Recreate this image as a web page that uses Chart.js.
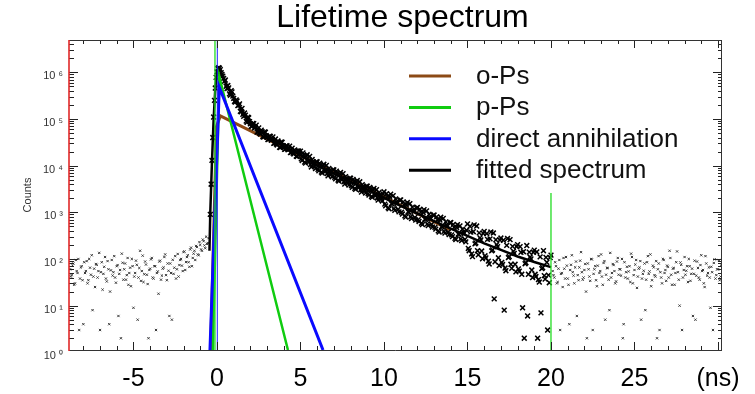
<!DOCTYPE html>
<html><head><meta charset="utf-8">
<script src="https://cdn.jsdelivr.net/npm/chart.js@4.4.1/dist/chart.umd.min.js"></script>
<style>html,body{margin:0;padding:0;background:#fff}canvas{display:block}</style>
</head><body>
<canvas id="c" width="755" height="394"></canvas>
<script>
// ---------- text ----------
const titleText = 'Lifetime spectrum';
const yAxisTitle = 'Counts';
const legendLabels = ['o-Ps', 'p-Ps', 'direct annihilation', 'fitted spectrum'];
const xTickValues = [-5, 0, 5, 10, 15, 20, 25, 30];
const xTickLabels = ['-5', '0', '5', '10', '15', '20', '25', '(ns)'];
const yTickValues = [1, 10, 100, 1000, 10000, 100000, 1000000];
const yTickLabels = ['10 \u2070', '10 \u00b9', '10 \u00b2', '10 \u00b3', '10 \u2074', '10 \u2075', '10 \u2076'];

// ---------- fitted components (time in ns, counts) ----------
const oPsT = [-0.38, -0.07, -0.04, 0.2, 14.0];
const oPsCounts = [1.12, 18600, 67000, 116000, 415];
const pPsT = [-0.25, 0.14, 4.25];
const pPsCounts = [1.12, 800000, 1.12];
const directT = [-0.42, 0.14, 6.35];
const directCounts = [1.12, 480000, 1.12];
const fitT = [-0.45, -0.4, -0.3, -0.2, -0.1, 0, 0.1, 0.2, 0.3, 0.4, 0.5, 0.6, 0.8, 1.0, 1.2, 1.4, 1.6, 1.8, 2.0, 2.5, 3, 3.5, 4, 5, 6, 7, 8, 9, 10, 11, 12, 13, 14, 15, 16, 17, 18, 19, 20];
const fitCounts = [150, 1000, 12000, 100000, 450000, 1000000, 1220000, 1100000, 900000, 740000, 610000, 510000, 380000, 290000, 220000, 170000, 130000, 100000, 83000, 57500, 42700, 33100, 26300, 17000, 10000, 6760, 4470, 3020, 2040, 1365, 942, 647, 447, 312, 216, 156, 113, 86, 67];

// ---------- range markers ----------
const markerP1T = [-0.12, -0.12];
const markerP1Counts = [1.12, 4.92e6];
const markerD1T = [0.02, 0.02];
const markerD1Counts = [1.12, 4.92e6];
const markerEndT = [20.0, 20.0];
const markerEndCounts = [1.12, 2600];

// ---------- measured spectrum (channel width 0.1 ns, two interleaved halves) ----------
const channelWidth = 0.1;
const measuredAStart = -0.4;
const measuredACounts = [900, 13000, 110000, 460000, 1020000, 1250000, 1140000, 900000, 740000,
 683000, 449000, 462000, 323000, 380000, 276000, 230000, 242000, 195000, 146000,
 168000, 114000, 121000, 85000, 106000, 78900, 69300, 79200, 66000, 52500,
 64400, 47500, 53600, 40800, 51800, 40600, 36500, 42400, 36700, 29900,
 37100, 27700, 31500, 24500, 31600, 25000, 22700, 26500, 23000, 19000,
 23600, 17800, 20400, 15700, 20500, 20400, 12900, 16800, 11300, 17100,
 12000, 10500, 13500, 11100, 8610, 12000, 7700, 10200, 6940, 10700,
 7570, 6730, 8760, 7330, 5780, 8110, 5190, 6840, 4660, 7160,
 5050, 4480, 5820, 4850, 3820, 5360, 3440, 4550, 3100, 4790,
 3390, 3010, 3910, 3270, 2580, 3620, 2330, 3080, 2100, 3240,
 2290, 2030, 2650, 2210, 1750, 2750, 1370, 2160, 1180, 2440,
 1500, 1200, 1930, 1550, 1020, 1840, 917, 1450, 787, 1620,
 1000, 803, 1290, 1040, 683, 1270, 635, 1010, 547, 1140,
 703, 564, 906, 733, 484, 873, 437, 691, 376, 781,
 484, 389, 625, 506, 334, 603, 302, 478, 261, 542,
 336, 270, 434, 352, 233, 562, 150, 377, 112, 538,
 220, 150, 362, 255, 101, 389, 105, 263, 78, 378,
 156, 14, 258, 183, 72, 281, 76, 8, 56, 274,
 112, 77, 186, 132, 53, 203, 55, 139, 9, 2,
 83, 6, 140, 100, 40, 155, 42, 2, 32, 7,
 65, 44, 108, 3, 31, 121];
const measuredBStart = -0.35;
const measuredBCounts = [4000, 40000, 250000, 780000, 1200000, 1230000, 980000, 830000, 640000,
 501000, 520000, 344000, 404000, 309000, 237000, 256000, 193000, 211000, 142000,
 126000, 134000, 90000, 109000, 87400, 69600, 80500, 64200, 73700, 52700,
 50100, 57800, 41600, 53000, 43800, 36200, 42700, 35000, 41400, 30300,
 29100, 33800, 24700, 32000, 26900, 22400, 26600, 21900, 26100, 19200,
 18500, 21800, 15900, 20600, 17400, 14000, 18800, 11900, 16200, 12600,
 15800, 9360, 12000, 9720, 12100, 8340, 11300, 7260, 10000, 7970,
 10100, 6060, 7840, 6470, 8140, 5630, 7620, 4870, 6730, 5330,
 6730, 4020, 5200, 4280, 5380, 3720, 5060, 3250, 4490, 3560,
 4510, 2710, 3500, 2890, 3630, 2520, 3420, 2190, 3040, 2410,
 3050, 1830, 2360, 1950, 2450, 1500, 2500, 1250, 2120, 1530,
 2280, 1100, 1660, 1160, 1810, 1000, 1670, 840, 1420, 1030,
 1530, 735, 1110, 774, 1230, 694, 1160, 583, 991, 716,
 1070, 517, 782, 548, 858, 476, 796, 401, 682, 493,
 739, 357, 540, 378, 592, 329, 550, 277, 473, 342,
 512, 247, 375, 263, 412, 168, 502, 128, 384, 211,
 508, 123, 283, 148, 352, 117, 349, 90, 269, 149,
 360, 87, 203, 106, 253, 84, 252, 64, 195, 107,
 260, 63, 146, 77, 184, 61, 184, 47, 143, 79,
 194, 47, 110, 58, 139, 47, 141, 36, 111, 62,
 150, 37, 85, 45, 107];
const bgLeftAStart = -8.8;
const bgLeftACounts = [60, 45, 80, 30, 55, 100, 38, 70, 4, 50,
 90, 35, 65, 120, 42, 25, 75, 55, 3, 85,
 48, 110, 33, 60, 20, 95, 52, 40, 70, 6,
 58, 130, 36, 80, 45, 28, 65, 100, 9, 50,
 75, 40, 150, 55, 32, 88, 46, 2, 62, 105,
 38, 70, 50, 18, 92, 44, 66, 125, 35, 56,
 80, 5, 48, 115, 60, 42, 95, 72, 140, 58,
 110, 85, 160, 70, 130, 95, 180, 120, 200, 150,
 240, 170, 210, 280];
const bgLeftBStart = -8.75;
const bgLeftBCounts = [42, 72, 28, 95, 50, 3, 66, 35, 85, 55,
 30, 100, 46, 8, 62, 78, 40, 135, 52, 22,
 68, 38, 90, 4, 57, 44, 115, 31, 74, 48,
 2, 83, 60, 36, 105, 50, 26, 70, 42, 92,
 5, 64, 34, 118, 47, 76, 29, 58, 98, 40,
 70, 3, 54, 88, 36, 62, 110, 45, 80, 6,
 50, 96, 65, 38, 128, 74, 100, 55, 145, 86,
 120, 68, 175, 105, 150, 190, 125, 230, 160, 260,
 195, 300, 220];
const bgRightAStart = 20.1;
const bgRightACounts = [55, 40, 70, 32, 95, 48, 25, 62, 110, 38,
 4, 75, 52, 30, 88, 45, 66, 140, 36, 58,
 20, 80, 42, 100, 3, 60, 35, 72, 50, 125,
 28, 90, 46, 64, 8, 40, 78, 55, 33, 105,
 60, 44, 2, 85, 52, 38, 70, 130, 30, 58,
 95, 42, 66, 5, 48, 80, 36, 115, 54, 26,
 72, 45, 90, 60, 3, 40, 100, 50, 34, 68,
 150, 46, 62, 28, 85, 52, 10, 75, 40, 110,
 56, 32, 70, 48, 6, 92, 44, 64, 36, 120,
 58, 25, 80, 50, 40, 68, 3, 98, 45, 60,
 35, 75];
const bgRightBStart = 20.15;
const bgRightBCounts = [45, 85, 30, 62, 3, 50, 105, 38, 72, 28,
 58, 120, 44, 66, 6, 35, 92, 52, 40, 78,
 2, 60, 34, 98, 48, 70, 26, 115, 55, 42,
 82, 5, 64, 36, 135, 50, 74, 30, 88, 46,
 60, 100, 4, 40, 68, 54, 32, 110, 45, 76,
 24, 62, 90, 38, 56, 8, 85, 48, 125, 35,
 66, 42, 2, 80, 52, 30, 95, 58, 72, 40,
 105, 28, 64, 50, 145, 36, 84, 3, 58, 46,
 70, 100, 34, 62, 48, 5, 88, 40, 74, 55,
 30, 115, 44, 66, 9, 52, 82, 38, 60, 95,
 42];

// ---------- helpers ----------
const pairs = (ts, cs) => ts.map((t, i) => ({x: t, y: cs[i]}));
const channels = (start, cs) => cs.map((c, i) => ({x: Math.round((start + i * channelWidth) * 100) / 100, y: c}));
const FONT = '"Liberation Sans", Arial, Helvetica, sans-serif';

const lineDs = (label, data, color, width, order) => ({
  type: 'line', label, data, borderColor: color, backgroundColor: color,
  borderWidth: width, pointRadius: 0, fill: false, tension: 0, order
});
const crossDs = (label, data, order) => ({
  type: 'scatter', label, data, pointStyle: 'crossRot', pointRadius: 3.4,
  borderWidth: 1.5, borderColor: '#000', backgroundColor: '#000', order
});
const dotDs = (label, data) => ({
  type: 'scatter', label, data, pointStyle: 'crossRot', pointRadius: 1.6,
  borderWidth: 1, borderColor: '#3a3a3a', backgroundColor: '#3a3a3a', order: 7
});

const datasets = [
  lineDs('o-Ps', pairs(oPsT, oPsCounts), '#8c4a16', 3, 6),
  lineDs('p-Ps', pairs(pPsT, pPsCounts), '#10cc10', 2.5, 2),
  lineDs('direct annihilation', pairs(directT, directCounts), '#0a0aff', 3, 1),
  lineDs('fitted spectrum', pairs(fitT, fitCounts), '#000000', 2.5, 5),
  crossDs('measured A', channels(measuredAStart, measuredACounts), 4),
  crossDs('measured B', channels(measuredBStart, measuredBCounts), 4),
  dotDs('background left A', channels(bgLeftAStart, bgLeftACounts)),
  dotDs('background left B', channels(bgLeftBStart, bgLeftBCounts)),
  dotDs('background right A', channels(bgRightAStart, bgRightACounts)),
  dotDs('background right B', channels(bgRightBStart, bgRightBCounts)),
  lineDs('marker p', pairs(markerP1T, markerP1Counts), '#22dd22', 1.3, 0),
  lineDs('marker d', pairs(markerD1T, markerD1Counts), '#2020ff', 1, 0),
  lineDs('marker end', pairs(markerEndT, markerEndCounts), '#22dd22', 1.3, 0)
];

const decorPlugin = {
  id: 'decor',
  afterDatasetsDraw(chart) {
    const {ctx, chartArea: {left, right, top, bottom}, scales: {x, y}} = chart;
    ctx.save();
    const seg = (x1, y1, x2, y2) => { ctx.beginPath(); ctx.moveTo(x1, y1); ctx.lineTo(x2, y2); ctx.stroke(); };
    ctx.strokeStyle = '#222'; ctx.lineWidth = 1;
    for (let v = Math.ceil(x.min); v <= x.max; v++) {
      const px = Math.round(x.getPixelForValue(v)) + 0.5;
      const len = v % 5 === 0 ? 8 : 4;
      seg(px, bottom, px, bottom - len);
      seg(px, top, px, top + len);
    }
    for (let d = 0; d <= 7; d++) {
      for (let m = 1; m < 10; m++) {
        const v = m * Math.pow(10, d);
        if (v < y.min || v > y.max) continue;
        const py = Math.round(y.getPixelForValue(v)) + 0.5;
        seg(left, py, left + (m === 1 ? 9 : 5), py);
        seg(right, py, right - (m === 1 ? 8 : 3), py);
      }
    }
    ctx.strokeStyle = '#333';
    seg(left, top + 0.5, right, top + 0.5);
    seg(left, bottom + 0.5, right + 0.5, bottom + 0.5);
    seg(right + 0.5, top, right + 0.5, bottom + 1);
    ctx.strokeStyle = '#e02828'; ctx.lineWidth = 1.6;
    seg(left, top, left, bottom + 1);
    ctx.restore();
  },
  afterDraw(chart) {
    const {ctx} = chart;
    ctx.save();
    ctx.fillStyle = '#000';
    ctx.font = '32px ' + FONT;
    ctx.textAlign = 'center'; ctx.textBaseline = 'alphabetic';
    ctx.fillText(titleText, 402.5, 27);
    ctx.font = '26px ' + FONT;
    ctx.textAlign = 'left';
    legendLabels.forEach((lab, i) => {
      const ds = chart.data.datasets.find(d => d.label === lab);
      const yy = 76 + i * 31.4;
      ctx.strokeStyle = ds.borderColor; ctx.lineWidth = 3;
      ctx.beginPath(); ctx.moveTo(409, yy); ctx.lineTo(451, yy); ctx.stroke();
      ctx.fillStyle = '#111';
      ctx.fillText(lab, 476, yy + 8);
    });
    ctx.restore();
  }
};

new Chart(document.getElementById('c'), {
  type: 'scatter',
  data: {datasets},
  options: {
    responsive: false, animation: false, devicePixelRatio: 1,
    layout: {padding: {top: 40, right: 34, left: 0, bottom: 0}},
    plugins: {legend: {display: false}, tooltip: {enabled: false}, title: {display: false}},
    scales: {
      x: {
        type: 'linear', position: 'bottom', min: -8.86, max: 30.18,
        grid: {display: false, drawTicks: false}, border: {display: false},
        ticks: {autoSkip: false, maxRotation: 0, padding: 14, color: '#000',
          font: {family: FONT, size: 25},
          callback: (v) => { const k = xTickValues.indexOf(v); return k >= 0 ? xTickLabels[k] : ''; }},
        afterBuildTicks: (s) => { s.ticks = xTickValues.map(v => ({value: v})); },
        afterFit: (s) => { s.height = 44; }
      },
      y: {
        type: 'logarithmic', position: 'left', min: 1.12, max: 4.92e6,
        grid: {display: false, drawTicks: false}, border: {display: false},
        ticks: {autoSkip: false, padding: 6, labelOffset: 4, color: '#333',
          font: {family: FONT, size: 11},
          callback: (v) => { const k = yTickValues.indexOf(v); return k >= 0 ? yTickLabels[k] : ''; }},
        title: {display: true, text: yAxisTitle, color: '#333', font: {family: FONT, size: 11}, padding: {top: 21, bottom: 0}},
        afterBuildTicks: (s) => { s.ticks = yTickValues.map(v => ({value: v})); },
        afterFit: (s) => { s.width = 69; }
      }
    }
  },
  plugins: [decorPlugin]
});
</script>
</body></html>
